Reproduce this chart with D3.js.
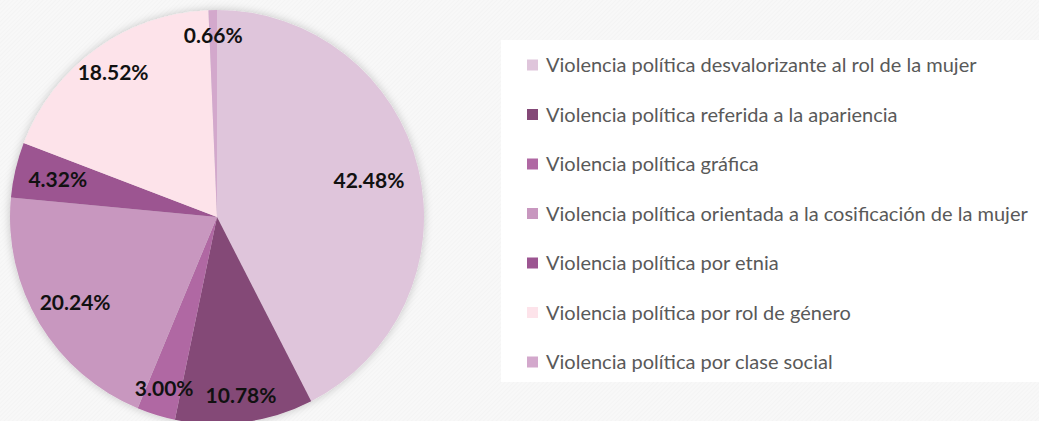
<!DOCTYPE html>
<html>
<head>
<meta charset="utf-8">
<script src="https://cdn.jsdelivr.net/npm/d3@7"></script>
<style>
  body { margin: 0; background: #fff; }
  svg { display: block; }
</style>
</head>
<body>
<div id="chart"></div>
<script>
// chart data
const categories = [
    "Violencia política desvalorizante al rol de la mujer",
    "Violencia política referida a la apariencia",
    "Violencia política gráfica",
    "Violencia política orientada a la cosificación de la mujer",
    "Violencia política por etnia",
    "Violencia política por rol de género",
    "Violencia política por clase social"
];
const values = [42.48, 10.78, 3.00, 20.24, 4.32, 18.52, 0.66];
const colors = ["#dfc5db", "#844877", "#b068a3", "#c897bf", "#9c5591", "#fde3ea", "#d3a8cc"];
// label distance from centre, as a share of the radius (best-fit placement)
const labelRadius = [0.755, 0.87, 0.866, 0.80, 0.79, 0.86, 0.875];

const width = 1039, height = 421;
const cx = 217, cy = 217, radius = 207;

const svg = d3.select("#chart")
    .append("svg")
    .attr("width", width)
    .attr("height", height);

const defs = svg.append("defs");

// faint diagonal hatch behind everything
const pattern = defs.append("pattern")
    .attr("id", "hatch")
    .attr("patternUnits", "userSpaceOnUse")
    .attr("width", 3)
    .attr("height", 3)
    .attr("patternTransform", "rotate(45)");
pattern.append("rect").attr("width", 3).attr("height", 3).attr("fill", "#f8f8f8");
pattern.append("line")
    .attr("x1", 0).attr("y1", 0).attr("x2", 0).attr("y2", 3)
    .attr("stroke", "#f1f1f1").attr("stroke-width", 1);

const shadow = defs.append("filter")
    .attr("id", "shadow")
    .attr("x", "-10%").attr("y", "-10%")
    .attr("width", "120%").attr("height", "120%");
shadow.append("feDropShadow")
    .attr("dx", 0).attr("dy", 0)
    .attr("stdDeviation", 4)
    .attr("flood-color", "#000")
    .attr("flood-opacity", 0.22);

svg.append("rect")
    .attr("width", width)
    .attr("height", height)
    .attr("fill", "url(#hatch)");

// white legend panel
svg.append("rect")
    .attr("x", 501).attr("y", 40)
    .attr("width", width - 501).attr("height", 342)
    .attr("fill", "#fff");

const pie = d3.pie()
    .sort(null)
    .value(d => d);

const arcs = pie(values);

const arc = d3.arc()
    .innerRadius(0)
    .outerRadius(radius);

const g = svg.append("g")
    .attr("transform", `translate(${cx},${cy})`);

g.append("g")
    .attr("filter", "url(#shadow)")
    .selectAll("path")
    .data(arcs)
    .enter()
    .append("path")
    .attr("d", arc)
    .attr("fill", (d, i) => colors[i]);

g.selectAll(".lbl")
    .data(arcs)
    .enter()
    .append("text")
    .attr("class", "lbl")
    .attr("transform", (d, i) => {
        const r = radius * labelRadius[i];
        const la = d3.arc().innerRadius(r).outerRadius(r);
        const [x, y] = la.centroid(d);
        return `translate(${x},${y})`;
    })
    .attr("text-anchor", "middle")
    .attr("dy", "0.36em")
    .style("font-family", "Lato, 'Open Sans', sans-serif")
    .style("font-weight", "bold")
    .style("font-size", "21px")
    .attr("fill", "#111")
    .text(d => d.value.toFixed(2) + "%");

// legend
const legendY = d3.scalePoint()
    .domain(categories)
    .range([65, 362]);

const legend = svg.append("g")
    .selectAll("g")
    .data(categories)
    .enter()
    .append("g")
    .attr("transform", d => `translate(527,${legendY(d)})`);

legend.append("rect")
    .attr("x", 0)
    .attr("y", -5.5)
    .attr("width", 11)
    .attr("height", 11)
    .attr("fill", (d, i) => colors[i]);

legend.append("text")
    .attr("x", 19)
    .attr("dy", "0.35em")
    .style("font-family", "Lato, 'Open Sans', sans-serif")
    .style("font-size", "20px")
    .attr("fill", "#595959")
    .text(d => d);
</script>
</body>
</html>
